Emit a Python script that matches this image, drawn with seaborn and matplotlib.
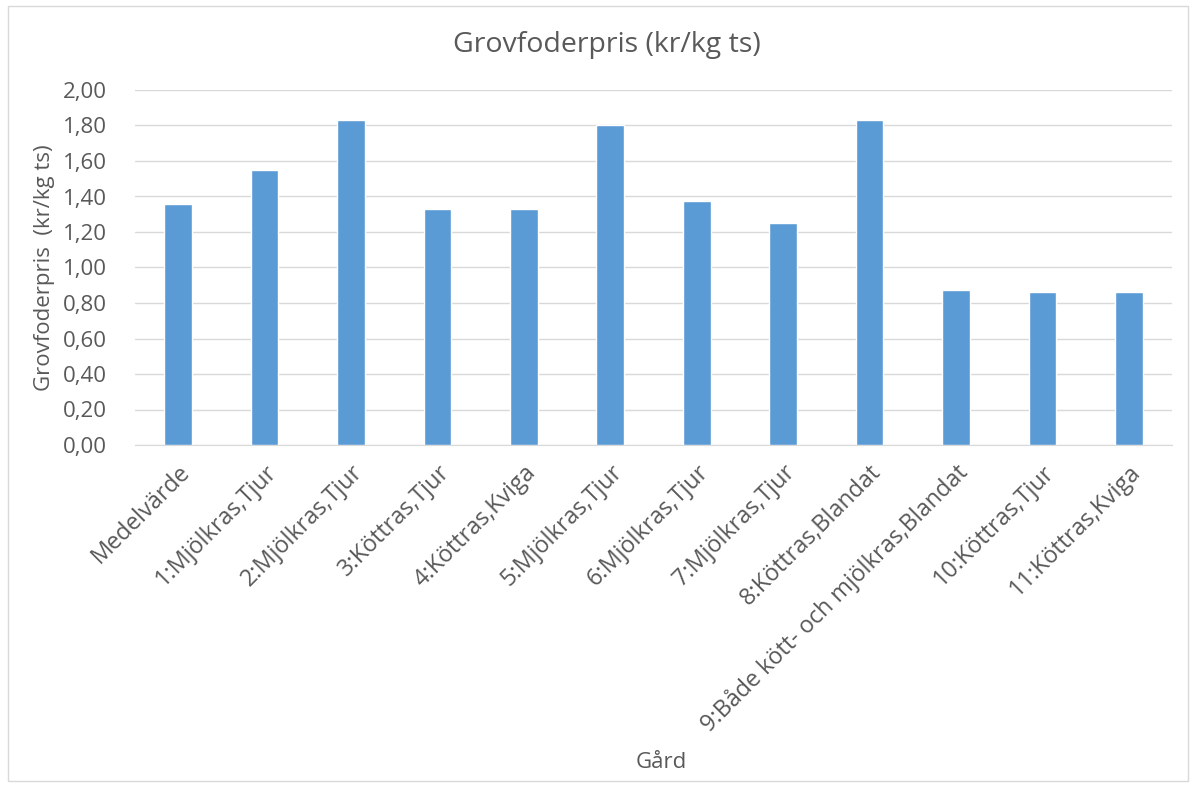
import matplotlib
matplotlib.use("Agg")
import matplotlib.pyplot as plt
import seaborn as sns
import pandas as pd

# Data
gardar = ["Medelvärde", "1:Mjölkras,Tjur", "2:Mjölkras,Tjur", "3:Köttras,Tjur",
          "4:Köttras,Kviga", "5:Mjölkras,Tjur", "6:Mjölkras,Tjur", "7:Mjölkras,Tjur",
          "8:Köttras,Blandat", "9:Både kött- och mjölkras,Blandat",
          "10:Köttras,Tjur", "11:Köttras,Kviga"]
priser = [1.355, 1.55, 1.83, 1.33, 1.33, 1.80, 1.375, 1.25, 1.83, 0.875, 0.86, 0.86]
y_ticks = [0.0, 0.2, 0.4, 0.6, 0.8, 1.0, 1.2, 1.4, 1.6, 1.8, 2.0]

df = pd.DataFrame({"Gård": gardar, "Pris": priser})

sns.set_style("white")
plt.rcParams["font.family"] = ["Open Sans", "DejaVu Sans"]
txt = "#595959"

fig = plt.figure(figsize=(11.98, 7.87), dpi=100)
ax = fig.add_axes([135 / 1198, 1 - 445 / 787, (1172 - 135) / 1198, (445 - 90) / 787])

sns.barplot(data=df, x="Gård", y="Pris", color="#5B9BD5", width=0.32,
            saturation=1, ax=ax, zorder=3)

ax.set_ylim(0, 2.0)
ax.set_yticks(y_ticks)
ax.set_yticklabels([f"{v:.2f}".replace(".", ",") for v in y_ticks],
                   fontsize=16, color=txt)
ax.set_xlim(-0.5, len(gardar) - 0.5)
ax.set_xticks(range(len(gardar)))
ax.set_xticklabels(gardar, rotation=45, ha="right", rotation_mode="anchor",
                   fontsize=16.8, color=txt)
ax.tick_params(axis="y", length=0, pad=20)
ax.tick_params(axis="x", length=0, pad=11)
ax.yaxis.grid(True, color="#D9D9D9", linewidth=1, zorder=0)
for s in ["top", "right", "left"]:
    ax.spines[s].set_visible(False)
ax.spines["bottom"].set_color("#D9D9D9")

ax.set_ylabel("Grovfoderpris  (kr/kg ts)", fontsize=16, color=txt, labelpad=6)
ax.set_xlabel("")
fig.text(661 / 1198, 1 - 762 / 787, "Gård", ha="center", va="center",
         fontsize=16, color=txt)
fig.text(607 / 1198, 1 - 45 / 787, "Grovfoderpris (kr/kg ts)", ha="center",
         va="center", fontsize=20.5, color=txt)

# light frame round the chart
fig.patches.append(plt.Rectangle((8 / 1198, 6 / 787), 1180 / 1198, 775 / 787,
                                 transform=fig.transFigure, fill=False,
                                 edgecolor="#D9D9D9", linewidth=1))

fig.savefig("out.png", dpi=100, facecolor="white")
